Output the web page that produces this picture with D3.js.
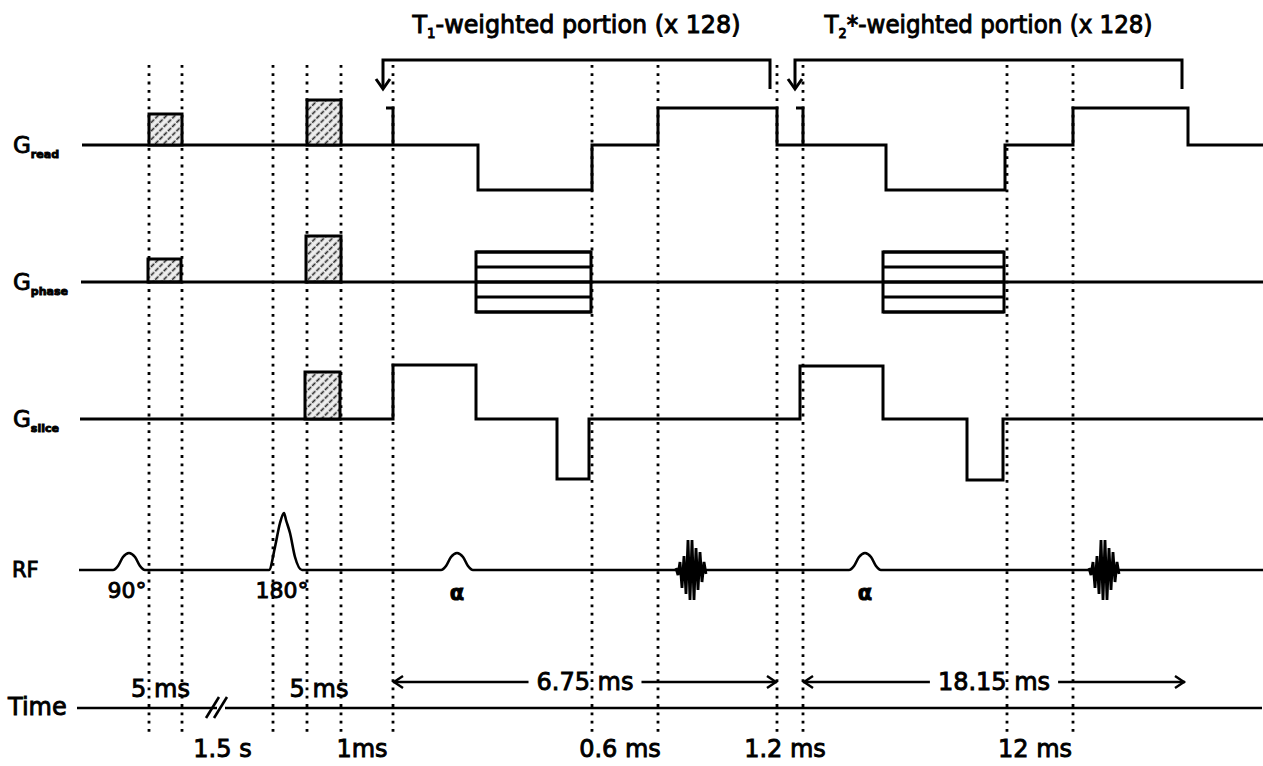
<!DOCTYPE html>
<html>
<head>
<meta charset="utf-8">
<script src="https://cdn.jsdelivr.net/npm/d3@7"></script>
<style>
  body { margin: 0; background: #fff; }
  text { font-family: "DejaVu Sans", sans-serif; fill: #000; }
</style>
</head>
<body>
<div id="chart"></div>
<script>
// timing markers along the sequence (schematic time units)
var markers = [149, 182, 273, 307, 341, 393, 592, 658, 777, 803, 1007, 1073];

// gradient lobes: [start, end, amplitude]
var readLobes  = [[478, 592, -9], [658, 777, 7.4], [886, 1005, -9], [1073, 1188, 7.4]];
var readSpikes = [393, 803];
var spikeAmp = 7.4;
var sliceLobes = [[393, 476, 10.8], [557, 589, -12], [800, 883, 10.6], [967, 1003, -12.2]];

// hatched preparation gradients: [start, end, amplitude]
var readCrush  = [[149, 182, 6.2], [307, 341, 9]];
var phaseCrush = [[148, 181, 4.6], [306, 341, 9.2]];
var sliceCrush = [[305, 340, 9.4]];

// phase encoding tables
var phaseTables = [[476, 591], [883, 1004]];
var phaseSteps = [-6, -3, 0, 3, 6];

// RF pulses: centre, shape [offset, amplitude]
var pulseCenters = [129, 284, 457, 865];
var pulseLabels = ["90°", "180°", "α", "α"];
var softShape = [[-16, 0], [-11, 4], [-6, 13], [0, 17], [6, 13], [11, 4], [16, 0]];
var invShape  = [[-15, 0], [-9, 23], [-4, 47], [0, 57], [2, 50], [6, 37], [11, 13], [18, 0]];
var pulseShapes = [softShape, invShape, softShape, softShape];

// echo signals
var echoStarts = [676, 1089];
var echoAmps = [2, -5, 8, -18, 14, -24, 30, -30, 30, -30, 22, -20, 18, -12, 8, -4];

// time annotations
var gapLabels = ["5 ms", "1.5 s", "5 ms", "1ms", "0.6 ms", "1.2 ms", "12 ms"];
var gapFrom   = [149, 182, 307, 341, 592, 777, 1007];
var gapTo     = [182, 273, 341, 393, 658, 803, 1073];
var gapAbove  = [true, false, true, false, false, false, false];
var spanLabels = ["6.75 ms", "18.15 ms"];
var spanFrom = [393, 803];
var spanTo   = [777, 1185];
var timeBreak = 222;

// repeated blocks
var loopNames = [["T", "1", "-weighted portion (x 128)"], ["T", "2", "*-weighted portion (x 128)"]];
var loopFrom = [383, 795];
var loopTo   = [770, 1182];

var width = 1263, height = 766;
var rowY = {read: 145, phase: 282, slice: 419, rf: 570, time: 708};

var x = d3.scaleLinear().domain([0, 1263]).range([0, width]);
var amp = d3.scaleLinear().domain([0, 10]).range([0, -50]);   // gradient amplitude
var rfAmp = d3.scaleLinear().domain([0, 60]).range([0, -60]);   // RF amplitude

var svg = d3.select("#chart").append("svg")
  .attr("width", width)
  .attr("height", height);

svg.append("rect").attr("width", width).attr("height", height).attr("fill", "#fff");

var defs = svg.append("defs");
var hatch = defs.append("pattern")
  .attr("id", "hatch")
  .attr("patternUnits", "userSpaceOnUse")
  .attr("width", 6).attr("height", 6)
  .attr("patternTransform", "rotate(45)");
hatch.append("rect").attr("width", 6).attr("height", 6).attr("fill", "#ededed");
hatch.append("line")
  .attr("x1", 1.5).attr("y1", 0).attr("x2", 1.5).attr("y2", 6)
  .attr("stroke", "#222").attr("stroke-width", 1.6)
  .attr("stroke-dasharray", "4 1.5");

// dotted timing markers
svg.append("g").selectAll("line")
  .data(markers)
  .enter().append("line")
  .attr("x1", function(d) { return x(d); })
  .attr("x2", function(d) { return x(d); })
  .attr("y1", 65).attr("y2", 734)
  .attr("stroke", "#000")
  .attr("stroke-width", 2.8)
  .attr("stroke-dasharray", "2.8 5.5");

var line = d3.line().x(function(d) { return x(d[0]); });

function trace(lobes, start, base) {
  var pts = [[start, 0]];
  lobes.forEach(function(l) {
    pts.push([l[0], 0], [l[0], l[2]], [l[1], l[2]], [l[1], 0]);
  });
  pts.push([1263, 0]);
  return line.y(function(d) { return base + amp(d[1]); })(pts);
}

function crushers(list, base) {
  svg.append("g").selectAll("rect")
    .data(list)
    .enter().append("rect")
    .attr("x", function(d) { return x(d[0]); })
    .attr("width", function(d) { return x(d[1]) - x(d[0]); })
    .attr("y", function(d) { return base + amp(d[2]); })
    .attr("height", function(d) { return -amp(d[2]); })
    .attr("fill", "url(#hatch)")
    .attr("stroke", "#000")
    .attr("stroke-width", 3);
}

var wave = svg.append("g")
  .attr("fill", "none")
  .attr("stroke", "#000")
  .attr("stroke-width", 3)
  .attr("stroke-linejoin", "miter");

// G read
wave.append("path").attr("d", trace(readLobes, 82, rowY.read));
wave.selectAll("path.spike")
  .data(readSpikes)
  .enter().append("path")
  .attr("class", "spike")
  .attr("d", function(t) {
    return line.y(function(d) { return rowY.read + amp(d[1]); })([[t - 7, spikeAmp], [t, spikeAmp], [t, 0]]);
  });
crushers(readCrush, rowY.read);

// G phase
crushers(phaseCrush, rowY.phase);
phaseTables.forEach(function(tb) {
  var g = svg.append("g").attr("stroke", "#000").attr("stroke-width", 3);
  g.append("rect")
    .attr("x", x(tb[0])).attr("width", x(tb[1]) - x(tb[0]))
    .attr("y", rowY.phase + amp(d3.max(phaseSteps)))
    .attr("height", amp(d3.min(phaseSteps)) - amp(d3.max(phaseSteps)))
    .attr("fill", "#fff");
  g.selectAll("line")
    .data(phaseSteps)
    .enter().append("line")
    .attr("x1", x(tb[0])).attr("x2", x(tb[1]))
    .attr("y1", function(d) { return rowY.phase + amp(d); })
    .attr("y2", function(d) { return rowY.phase + amp(d); });
});
svg.append("path").attr("d", trace([], 81, rowY.phase))
  .attr("fill", "none").attr("stroke", "#000").attr("stroke-width", 3);

// G slice
wave.append("path").attr("d", trace(sliceLobes, 80, rowY.slice));
crushers(sliceCrush, rowY.slice);

// RF
var rfPts = [[79, 0]];
pulseCenters.forEach(function(c, i) {
  pulseShapes[i].forEach(function(p) { rfPts.push([c + p[0], p[1]]); });
});
rfPts.push([1263, 0]);
svg.append("path")
  .attr("d", d3.line()
    .x(function(d) { return x(d[0]); })
    .y(function(d) { return rowY.rf + rfAmp(d[1]); })
    .curve(d3.curveMonotoneX)(rfPts))
  .attr("fill", "none").attr("stroke", "#000").attr("stroke-width", 2.6);

svg.append("g").selectAll("path")
  .data(echoStarts)
  .enter().append("path")
  .attr("d", function(s) {
    var pts = echoAmps.map(function(a, i) { return [s + i * 2, a]; });
    return d3.line()
      .x(function(d) { return x(d[0]); })
      .y(function(d) { return rowY.rf + rfAmp(d[1]); })(pts);
  })
  .attr("fill", "none").attr("stroke", "#000").attr("stroke-width", 2.8);

svg.append("g").selectAll("text")
  .data(pulseCenters)
  .enter().append("text")
  .attr("x", function(d, i) { return x(d) + (i < 2 ? -2 : 0); })
  .attr("y", function(d, i) { return i < 2 ? 598 : 600; })
  .attr("text-anchor", "middle")
  .style("font-size", function(d, i) { return i < 2 ? "22px" : "21px"; })
  .style("font-weight", function(d, i) { return i < 2 ? "normal" : "bold"; })
  .attr("stroke", "#000").attr("stroke-width", 0.9)
  .text(function(d, i) { return pulseLabels[i]; });

// time axis
svg.append("line")
  .attr("x1", x(77)).attr("x2", x(1262))
  .attr("y1", rowY.time).attr("y2", rowY.time)
  .attr("stroke", "#000").attr("stroke-width", 2.6);
var brk = svg.append("g");
brk.append("rect")
  .attr("x", x(timeBreak) - 5).attr("y", rowY.time - 3)
  .attr("width", 8).attr("height", 6).attr("fill", "#fff");
[-8, 0].forEach(function(o) {
  brk.append("line")
    .attr("x1", x(timeBreak) + o - 8).attr("y1", rowY.time + 10)
    .attr("x2", x(timeBreak) + o + 5).attr("y2", rowY.time - 11)
    .attr("stroke", "#000").attr("stroke-width", 2.6);
});

svg.append("g").selectAll("text")
  .data(gapLabels)
  .enter().append("text")
  .attr("x", function(d, i) { return x((gapFrom[i] + gapTo[i]) / 2) - 5; })
  .attr("y", function(d, i) { return gapAbove[i] ? 697 : 757; })
  .attr("text-anchor", "middle")
  .style("font-size", "24px")
  .attr("stroke", "#000").attr("stroke-width", 0.9)
  .text(function(d) { return d; });

// span arrows
spanLabels.forEach(function(lbl, i) {
  var x0 = x(spanFrom[i]), x1 = x(spanTo[i]), xm = (x0 + x1) / 2, yA = 682;
  var t = svg.append("text")
    .attr("x", xm).attr("y", 690)
    .attr("text-anchor", "middle")
    .style("font-size", "24px")
    .attr("stroke", "#000").attr("stroke-width", 0.9)
    .text(lbl);
  var half = t.node().getComputedTextLength() / 2 + 8;
  var g = svg.append("g").attr("fill", "none").attr("stroke", "#000").attr("stroke-width", 2.4);
  g.append("path").attr("d", "M" + x0 + "," + yA + "H" + (xm - half) + "M" + (xm + half) + "," + yA + "H" + x1);
  g.append("path").attr("d", "M" + (x0 + 10) + "," + (yA - 6) + "L" + (x0 + 1) + "," + yA + "L" + (x0 + 10) + "," + (yA + 6));
  g.append("path").attr("d", "M" + (x1 - 10) + "," + (yA - 6) + "L" + (x1 - 1) + "," + yA + "L" + (x1 - 10) + "," + (yA + 6));
});

// loop brackets and titles
loopNames.forEach(function(nm, i) {
  var x0 = x(loopFrom[i]), x1 = x(loopTo[i]), yT = 60, yB = 89;
  var g = svg.append("g").attr("fill", "none").attr("stroke", "#000").attr("stroke-width", 3);
  g.append("path").attr("d", "M" + x1 + "," + yB + "V" + yT + "H" + x0 + "V" + (yB - 2));
  g.append("path").attr("d", "M" + (x0 - 7) + "," + (yB - 10) + "L" + x0 + "," + yB + "L" + (x0 + 7) + "," + (yB - 10));
  var t = svg.append("text")
    .attr("x", (x0 + x1) / 2).attr("y", 33)
    .attr("text-anchor", "middle")
    .style("font-size", "25px")
    .attr("textLength", 328)
    .attr("lengthAdjust", "spacingAndGlyphs")
    .attr("stroke", "#000").attr("stroke-width", 1);
  t.append("tspan").text(nm[0]);
  t.append("tspan").attr("dy", 5).style("font-size", "14px").text(nm[1]);
  t.append("tspan").attr("dy", -5).text(nm[2]);
});

// row labels
var rowLabels = [["read", rowY.read], ["phase", rowY.phase], ["slice", rowY.slice]];
rowLabels.forEach(function(r) {
  var t = svg.append("text")
    .attr("x", 13).attr("y", r[1] + 8)
    .style("font-size", "23px")
    .attr("stroke", "#000").attr("stroke-width", 0.9);
  t.append("tspan").text("G");
  t.append("tspan").attr("dy", 5).style("font-size", "11px").style("font-weight", "bold").text(r[0]);
});
svg.append("text").attr("x", 12).attr("y", rowY.rf + 7)
  .style("font-size", "21px").attr("stroke", "#000").attr("stroke-width", 0.9).text("RF");
svg.append("text").attr("x", 8).attr("y", rowY.time + 7)
  .style("font-size", "24px").attr("stroke", "#000").attr("stroke-width", 0.9).text("Time");
</script>
</body>
</html>
